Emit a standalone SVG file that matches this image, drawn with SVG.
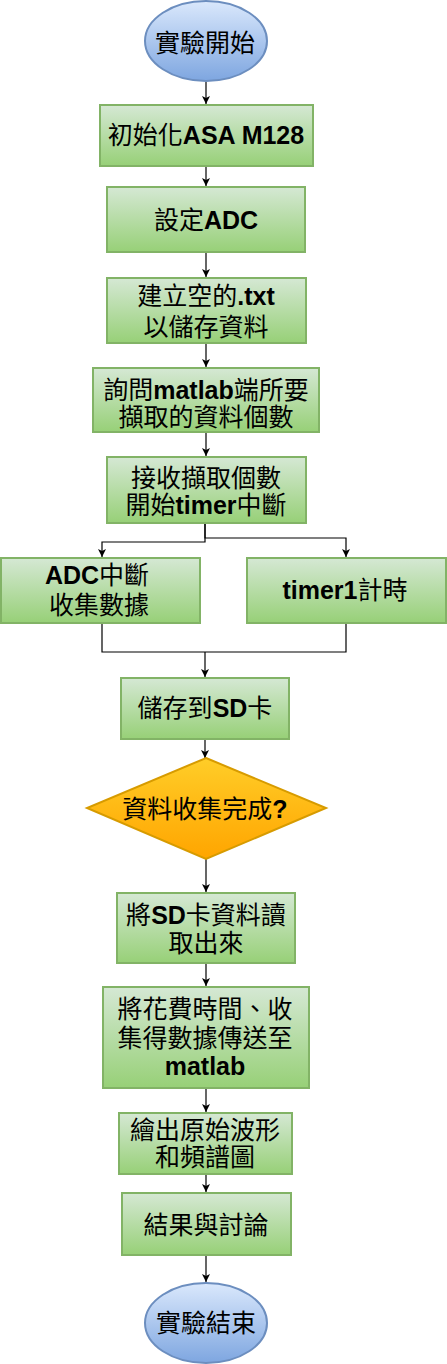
<svg xmlns="http://www.w3.org/2000/svg" width="447" height="1364" viewBox="0 0 447 1364">
<defs>
<linearGradient id="gG" x1="0" y1="0" x2="0" y2="1"><stop offset="0" stop-color="#d5e8d4"/><stop offset="1" stop-color="#97d077"/></linearGradient>
<linearGradient id="gB" x1="0" y1="0" x2="0" y2="1"><stop offset="0" stop-color="#dae8fc"/><stop offset="1" stop-color="#7ea6e0"/></linearGradient>
<linearGradient id="gO" x1="0" y1="0" x2="0" y2="1"><stop offset="0" stop-color="#ffcd28"/><stop offset="1" stop-color="#ffa500"/></linearGradient>
<marker id="arr" markerWidth="10" markerHeight="10" refX="8" refY="4" orient="auto" markerUnits="userSpaceOnUse"><path d="M0,0 L8,4 L0,8 L2,4 z" fill="#000"/></marker>
</defs>
<style>
.box{fill:url(#gG);stroke:#82b366;stroke-width:2}
.ell{fill:url(#gB);stroke:#6c8ebf;stroke-width:2}
.dia{fill:url(#gO);stroke:#d79b00;stroke-width:2}
.c{fill:none;stroke:#000;stroke-width:1.2}
.ca{fill:none;stroke:#000;stroke-width:1.2;marker-end:url(#arr)}
text{font-family:"Noto Sans CJK TC","Noto Sans CJK SC",sans-serif;font-size:25px;fill:#000;text-anchor:middle}
.b{font-family:"Liberation Sans",Arial,sans-serif;font-weight:bold}
</style>
<g id="connectors">
<path class="ca" d="M206,82 V104"/>
<path class="ca" d="M206,166 V186"/>
<path class="ca" d="M206,252 V277"/>
<path class="ca" d="M206,343 V367"/>
<path class="ca" d="M206,432 V456"/>
<path class="ca" d="M205,523 V542 H102 V557"/>
<path class="ca" d="M205,523 V538 H346 V557"/>
<path class="c" d="M102,623 V652 H346 V623"/>
<path class="ca" d="M205,652 V677"/>
<path class="ca" d="M205,739 V758"/>
<path class="ca" d="M206,859 V892"/>
<path class="ca" d="M206,963 V986"/>
<path class="ca" d="M206,1088 V1112"/>
<path class="ca" d="M206,1174 V1192"/>
<path class="ca" d="M206,1255 V1282"/>
</g>
<g id="start"><ellipse class="ell" cx="206" cy="41" rx="61" ry="40"/><text x="205" y="52">實驗開始</text></g>
<g id="init"><rect class="box" x="100" y="105" width="213" height="61"/><text x="206" y="144">初始化<tspan class="b">ASA M128</tspan></text></g>
<g id="adc"><rect class="box" x="107" y="187" width="198" height="65"/><text x="206" y="229">設定<tspan class="b">ADC</tspan></text></g>
<g id="txt"><rect class="box" x="107" y="278" width="199" height="65"/><text x="206" y="305">建立空的<tspan class="b">.txt</tspan><tspan x="206" dy="31">以儲存資料</tspan></text></g>
<g id="ask"><rect class="box" x="93" y="368" width="226" height="64"/><text x="206" y="399">詢問<tspan class="b">matlab</tspan>端所要<tspan x="206" dy="27">擷取的資料個數</tspan></text></g>
<g id="recv"><rect class="box" x="107" y="457" width="199" height="66"/><text x="206" y="487">接收擷取個數<tspan x="206" dy="27">開始</tspan><tspan class="b">timer</tspan>中斷</text></g>
<g id="adcint"><rect class="box" x="1" y="558" width="199" height="65"/><text x="97" y="584"><tspan class="b">ADC</tspan>中斷<tspan x="99" dy="30">收集數據</tspan></text></g>
<g id="timer"><rect class="box" x="247" y="558" width="199" height="65"/><text x="345" y="599"><tspan class="b">timer1</tspan>計時</text></g>
<g id="save"><rect class="box" x="121" y="678" width="168" height="61"/><text x="205" y="717">儲存到<tspan class="b">SD</tspan>卡</text></g>
<g id="done"><polygon class="dia" points="206,758 326,808 206,859 87,808"/><text x="205" y="818">資料收集完成<tspan class="b">?</tspan></text></g>
<g id="read"><rect class="box" x="117" y="893" width="178" height="70"/><text x="206" y="924">將<tspan class="b">SD</tspan>卡資料讀<tspan x="206" dy="28">取出來</tspan></text></g>
<g id="send"><rect class="box" x="103" y="987" width="206" height="101"/><text x="205" y="1018">將花費時間、收<tspan x="205" dy="29">集得數據傳送至</tspan><tspan x="205" dy="28" class="b">matlab</tspan></text></g>
<g id="plot"><rect class="box" x="119" y="1113" width="173" height="61"/><text x="205" y="1139">繪出原始波形<tspan x="205" dy="27">和頻譜圖</tspan></text></g>
<g id="result"><rect class="box" x="122" y="1193" width="169" height="62"/><text x="206" y="1234">結果與討論</text></g>
<g id="end"><ellipse class="ell" cx="206" cy="1323" rx="61" ry="40"/><text x="206" y="1332">實驗結束</text></g>
</svg>
